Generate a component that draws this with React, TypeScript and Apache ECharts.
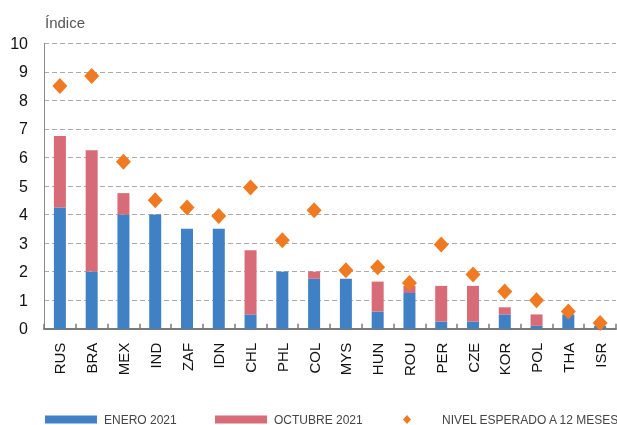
import React, { useEffect, useRef } from "react";
import * as echarts from "echarts";

const categories = ["RUS", "BRA", "MEX", "IND", "ZAF", "IDN", "CHL", "PHL", "COL", "MYS", "HUN", "ROU", "PER", "CZE", "KOR", "POL", "THA", "ISR"];
const enero2021 = [4.25, 2.0, 4.0, 4.0, 3.5, 3.5, 0.5, 2.0, 1.75, 1.75, 0.6, 1.25, 0.25, 0.25, 0.5, 0.1, 0.5, 0.1];
const octubre2021 = [6.75, 6.25, 4.75, 4.0, 3.5, 3.5, 2.75, 2.0, 2.0, 1.75, 1.65, 1.5, 1.5, 1.5, 0.75, 0.5, 0.5, 0.1];
const esperado12m = [8.5, 8.85, 5.85, 4.5, 4.25, 3.95, 4.95, 3.1, 4.15, 2.05, 2.15, 1.6, 2.95, 1.9, 1.3, 1.0, 0.6, 0.2];
const yTicks = [0, 1, 2, 3, 4, 5, 6, 7, 8, 9, 10];

const FONT = "'Liberation Sans', Arial, Helvetica, sans-serif";
const BLUE = "#4080C4";
const PINK = "#D86B78";
const ORANGE = "#F07A22";

export default function App() {
  const ref = useRef<HTMLDivElement>(null);
  useEffect(() => {
    if (!ref.current) return;
    const chart = echarts.init(ref.current, undefined, { renderer: "svg" });
    const incremento = octubre2021.map((v, i) => {
      const d = +(v - enero2021[i]).toFixed(2);
      return d > 0 ? d : null;
    });
    const legendText = { fontFamily: FONT, fontSize: 12, color: "#444", lineHeight: 14 };
    chart.setOption({
      animation: false,
      textStyle: { fontFamily: FONT },
      grid: { left: 44, right: 1, top: 43.3, bottom: 96.3, containLabel: false },
      graphic: [
        {
          type: "text",
          x: 45,
          y: 22,
          style: { text: "Índice", font: `15px ${FONT}`, fill: "#555", verticalAlign: "middle" },
        },
      ],
      legend: [
        {
          data: ["ENERO 2021"],
          left: 45,
          top: 412.5,
          padding: 0,
          itemWidth: 52,
          itemHeight: 8,
          icon: "rect",
          textStyle: { ...legendText, padding: [0, 0, 0, 2] },
        },
        {
          data: ["OCTUBRE 2021"],
          left: 215,
          top: 412.5,
          padding: 0,
          itemWidth: 52,
          itemHeight: 8,
          icon: "rect",
          textStyle: { ...legendText, padding: [0, 0, 0, 2] },
        },
        {
          data: ["NIVEL ESPERADO A 12 MESES"],
          left: 403,
          top: 412.5,
          padding: 0,
          itemWidth: 8,
          itemHeight: 9,
          icon: "diamond",
          textStyle: { ...legendText, padding: [0, 0, 0, 26] },
        },
      ],
      xAxis: {
        type: "category",
        data: categories,
        boundaryGap: true,
        axisLine: { show: true, lineStyle: { color: "#7a7a7a", width: 2 } },
        axisTick: { show: true, inside: true, length: 5, lineStyle: { color: "#7a7a7a", width: 1.5 } },
        axisLabel: { rotate: 90, fontSize: 15, color: "#111", margin: 14, fontFamily: FONT },
        splitLine: { show: false },
      },
      yAxis: {
        type: "value",
        min: yTicks[0],
        max: yTicks[yTicks.length - 1],
        interval: 1,
        axisLine: { show: true, lineStyle: { color: "#8a8a8a", width: 1 } },
        axisTick: { show: false },
        axisLabel: { fontSize: 16, color: "#111", margin: 16, fontFamily: FONT },
        splitLine: { show: true, lineStyle: { color: "#aaaaaa", type: [5, 3], width: 1 } },
      },
      series: [
        {
          name: "ENERO 2021",
          type: "bar",
          stack: "total",
          barWidth: 12,
          data: enero2021,
          itemStyle: { color: BLUE, borderWidth: 0 },
          z: 2,
        },
        {
          name: "OCTUBRE 2021",
          type: "bar",
          stack: "total",
          barWidth: 12,
          data: incremento,
          itemStyle: { color: PINK, borderWidth: 0 },
          z: 2,
        },
        {
          name: "NIVEL ESPERADO A 12 MESES",
          type: "scatter",
          symbol: "diamond",
          symbolSize: [15, 16],
          data: esperado12m,
          itemStyle: { color: ORANGE, opacity: 1 },
          z: 5,
        },
      ],
    });
    return () => chart.dispose();
  }, []);
  return <div ref={ref} style={{ position: "fixed", left: 0, top: 0, width: 617, height: 425 }} />;
}
